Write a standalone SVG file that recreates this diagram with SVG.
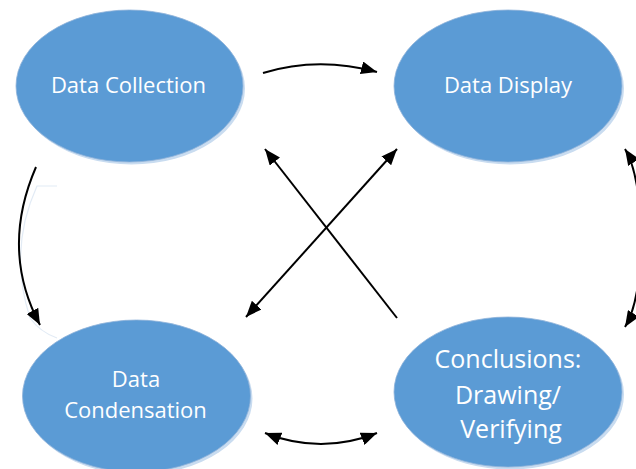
<svg xmlns="http://www.w3.org/2000/svg" width="636" height="469" viewBox="0 0 636 469">
  <style>
    .shade { fill: #c9dcf0; }
    .node { fill: #5B9BD5; stroke: #8fb3d9; stroke-width: 0.8; }
    .label { fill: #ffffff; font-family: "Open Sans", "Noto Sans", sans-serif; text-anchor: middle; }
    .conn { fill: none; stroke: #000000; stroke-width: 2; }
    .glint { fill: none; stroke: #e2ebf5; stroke-width: 1.2; }
  </style>
  <defs>
    <marker id="head" markerUnits="userSpaceOnUse" markerWidth="17" markerHeight="13" refX="16" refY="6.5" orient="auto-start-reverse" viewBox="0 0 17 13">
      <path d="M0,0 L16,6.5 L0,13 Z" fill="#000000"/>
    </marker>
  </defs>

  <rect width="636" height="469" fill="#ffffff"/>

  <!-- faint reflection along the left arc -->
  <path class="glint" d="M57,186 L37,186 Q8,250 30,318 Q40,332 57,338"/>

  <g id="data-collection">
    <ellipse class="shade" cx="131.5" cy="88.5" rx="113.5" ry="76"/>
    <ellipse class="node" cx="129.5" cy="86" rx="113.5" ry="76"/>
    <text class="label" x="128.5" y="93" font-size="22">Data Collection</text>
  </g>

  <g id="data-display">
    <ellipse class="shade" cx="510" cy="88.5" rx="114" ry="76"/>
    <ellipse class="node" cx="508" cy="86" rx="114" ry="76"/>
    <text class="label" x="508" y="93" font-size="22">Data Display</text>
  </g>

  <g id="data-condensation">
    <ellipse class="shade" cx="138.5" cy="398.5" rx="114" ry="76"/>
    <ellipse class="node" cx="136.5" cy="396" rx="114" ry="76"/>
    <text class="label" x="136" y="387" font-size="22">Data</text>
    <text class="label" x="135.5" y="418" font-size="22">Condensation</text>
  </g>

  <g id="conclusions">
    <ellipse class="shade" cx="510" cy="394.5" rx="114" ry="75"/>
    <ellipse class="node" cx="508" cy="392" rx="114" ry="75"/>
    <text class="label" x="508" y="368" font-size="25">Conclusions:</text>
    <text class="label" x="508" y="404" font-size="25">Drawing/</text>
    <text class="label" x="511" y="438" font-size="25">Verifying</text>
  </g>

  <g id="connectors">
    <!-- collection to display -->
    <path class="conn" d="M263,73 Q318,56 377,72" marker-end="url(#head)"/>
    <!-- collection down to condensation -->
    <path class="conn" d="M36,167 Q0,250 40,325" marker-end="url(#head)"/>
    <!-- display and conclusions, arc off the right edge -->
    <path class="conn" d="M625,149 C645,180 648,290 625,327" marker-start="url(#head)" marker-end="url(#head)"/>
    <!-- condensation and conclusions -->
    <path class="conn" d="M265,433 Q321,455 377,433" marker-start="url(#head)" marker-end="url(#head)"/>
    <!-- conclusions back to collection -->
    <path class="conn" d="M397,318 L265,149" marker-end="url(#head)"/>
    <!-- condensation and display -->
    <path class="conn" d="M246,317 L397,149" marker-start="url(#head)" marker-end="url(#head)"/>
  </g>
</svg>
